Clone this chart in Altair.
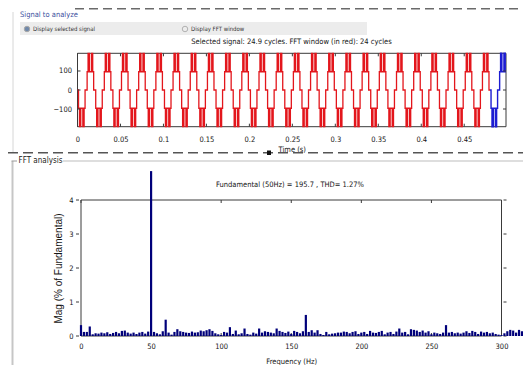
import altair as alt
import pandas as pd

# ---------------- data ----------------
# one period (20 ms) of the stepped multilevel signal: breakpoint times (ms) and levels
CYCLE_T_MS = [0, 1.2, 2.3, 2.6, 2.9, 3.2, 3.5, 3.8, 6.2, 6.5, 6.8, 7.1, 7.4, 7.7, 8.8,
              11.2, 12.3, 12.6, 12.9, 13.2, 13.5, 13.8, 16.2, 16.5, 16.8, 17.1, 17.4, 17.7, 18.8]
CYCLE_LEVEL = [0, -96, -193, -96, -193, -96, -193, -96, -193, -96, -193, -96, -193, -96, 0,
               96, 193, 96, 193, 96, 193, 96, 193, 96, 193, 96, 193, 96, 0]
PERIOD_MS = 20
SIGNAL_END_S = 0.4986      # 24.9 cycles
FFT_WINDOW_END_S = 0.48    # 24 cycles
V_LIMIT = 193
T_TICKS = [0, 0.05, 0.1, 0.15, 0.2, 0.25, 0.3, 0.35, 0.4, 0.45]
V_TICKS = [-100, 0, 100]

# FFT magnitudes (% of fundamental), one per bin of 50/24 Hz starting at 0 Hz
FREQ_STEP_HZ = 50 / 24
MAGS = [0.32, 0.12, 0.12, 0.28, 0.05, 0.08, 0.07, 0.10, 0.08, 0.11,
        0.06, 0.09, 0.12, 0.08, 0.15, 0.16, 0.10, 0.07, 0.10, 0.06,
        0.10, 0.12, 0.07, 0.13, 100.0, 0.12, 0.08, 0.05, 0.14, 0.48,
        0.10, 0.04, 0.12, 0.20, 0.14, 0.12, 0.10, 0.09, 0.13, 0.10,
        0.11, 0.16, 0.14, 0.17, 0.20, 0.15, 0.08, 0.05, 0.03, 0.12,
        0.10, 0.26, 0.06, 0.16, 0.05, 0.08, 0.22, 0.06, 0.04, 0.10,
        0.07, 0.22, 0.10, 0.14, 0.12, 0.10, 0.08, 0.22, 0.15, 0.12,
        0.09, 0.13, 0.06, 0.15, 0.12, 0.08, 0.14, 0.62, 0.12, 0.17,
        0.10, 0.17, 0.06, 0.03, 0.12, 0.05, 0.07, 0.08, 0.10, 0.10,
        0.13, 0.12, 0.08, 0.12, 0.14, 0.06, 0.10, 0.12, 0.06, 0.15,
        0.10, 0.09, 0.12, 0.15, 0.05, 0.10, 0.12, 0.06, 0.13, 0.22,
        0.10, 0.12, 0.05, 0.20, 0.18, 0.16, 0.12, 0.16, 0.10, 0.14,
        0.05, 0.10, 0.08, 0.06, 0.10, 0.32, 0.10, 0.12, 0.08, 0.10,
        0.07, 0.10, 0.14, 0.09, 0.15, 0.12, 0.06, 0.13, 0.10, 0.12,
        0.08, 0.10, 0.06, 0.04, 0.03, 0.08, 0.14, 0.18, 0.16, 0.10,
        0.18, 0.14, 0.18, 0.12]
F_TICKS = [0, 50, 100, 150, 200, 250, 300]
M_TICKS = [0, 1, 2, 3, 4]
F_MAX = 300
M_MAX = 4
M_VISIBLE = 4.85           # the fundamental bar runs out of the axes up to here

TITLE_TOP = "Selected signal: 24.9 cycles. FFT window (in red): 24 cycles"
TITLE_BOT = "Fundamental (50Hz) = 195.7 , THD= 1.27%"

# ---------------- layout (pixels inside the chart) ----------------
W, H = 515, 357
FONT = "Liberation Sans Narrow, DejaVu Sans Condensed, Liberation Sans, sans-serif"
TXT = "#151515"
FS = 7.5
TOP_X = [69.5, 498.0]
TOP_Y = [118.7, 45.3]
BOT_X = [68.0, 498.5]
BOT_Y = [328.0, 192.0]
RED = "#e3161c"
BLUE = "#1c1cd2"
NAVY = "#00007a"
FRAME = "#3a3a3a"

# ---------------- tables ----------------
rows = []
c = 0
while c * PERIOD_MS / 1000 < SIGNAL_END_S:
    for t, v in zip(CYCLE_T_MS, CYCLE_LEVEL):
        ts = round((c * PERIOD_MS + t) / 1000, 6)
        if ts < SIGNAL_END_S:
            rows.append((ts, v))
    c += 1
rows.append((SIGNAL_END_S, rows[-1][1]))
sig = pd.DataFrame(rows, columns=["t", "v"])
sig_red = sig[sig.t <= FFT_WINDOW_END_S]
sig_blue = sig[sig.t >= FFT_WINDOW_END_S]

fft = pd.DataFrame({"f": [k * FREQ_STEP_HZ for k in range(len(MAGS))], "m": MAGS})

ONE = pd.DataFrame({"k": [0]})

common_axis = dict(domain=False, ticks=False, grid=False, labelFont=FONT,
                   labelFontSize=FS, labelColor=TXT, titleFont=FONT,
                   titleFontSize=FS, titleFontWeight="normal", titleColor=TXT,
                   labelFlush=False, labelOverlap=False)

# ---------------- top plot ----------------
xs_top = alt.Scale(domain=[0, SIGNAL_END_S], range=TOP_X, nice=False, zero=False)
ys_top = alt.Scale(domain=[-V_LIMIT, V_LIMIT], range=TOP_Y, nice=False, zero=False)
ax_tx = alt.Axis(orient="bottom", offset=TOP_Y[0] - H, values=T_TICKS, format=".2~f",
                 title="Time (s)", labelPadding=9, titlePadding=2, **common_axis)
ax_ty = alt.Axis(orient="left", offset=-TOP_X[0], values=V_TICKS, title=None,
                 labelPadding=6, **common_axis)
TX = lambda f="t": alt.X(f"{f}:Q", scale=xs_top, axis=ax_tx)
TY = lambda f="v": alt.Y(f"{f}:Q", scale=ys_top, axis=ax_ty)

top_box = alt.Chart(pd.DataFrame({"t": [0], "t2": [SIGNAL_END_S], "v": [-V_LIMIT], "v2": [V_LIMIT]})).mark_rect(
    fill=None, stroke=FRAME, strokeWidth=1).encode(x=TX(), x2="t2:Q", y=TY(), y2="v2:Q")
top_blue = alt.Chart(sig_blue).mark_line(interpolate="step-after", color=BLUE, strokeWidth=1.4).encode(
    x=TX(), y=TY(), order="t:Q")
top_red = alt.Chart(sig_red).mark_line(interpolate="step-after", color=RED, strokeWidth=1.3).encode(
    x=TX(), y=TY(), order="t:Q")
tt = pd.DataFrame({"t": T_TICKS})
tv = pd.DataFrame({"v": V_TICKS})
top_ticks = [
    alt.Chart(tt).mark_rule(color=FRAME).encode(x=TX(), y=alt.value(TOP_Y[0]), y2=alt.value(TOP_Y[0] - 3)),
    alt.Chart(tt).mark_rule(color=FRAME).encode(x=TX(), y=alt.value(TOP_Y[1]), y2=alt.value(TOP_Y[1] + 3)),
    alt.Chart(tv).mark_rule(color=FRAME).encode(y=TY(), x=alt.value(TOP_X[0]), x2=alt.value(TOP_X[0] + 3)),
    alt.Chart(tv).mark_rule(color=FRAME).encode(y=TY(), x=alt.value(TOP_X[1]), x2=alt.value(TOP_X[1] - 3)),
]
top = alt.layer(top_box, top_blue, top_red, *top_ticks)

# ---------------- bottom plot ----------------
xs_bot = alt.Scale(domain=[0, F_MAX], range=BOT_X, nice=False, zero=False)
ys_bot = alt.Scale(domain=[0, M_MAX], range=BOT_Y, nice=False, zero=False)
ax_bx = alt.Axis(orient="bottom", offset=BOT_Y[0] - H, values=F_TICKS, format="d",
                 title="Frequency (Hz)", labelPadding=6, titlePadding=8, **common_axis)
bot_axis = dict(common_axis)
bot_axis.update(titleFont="Liberation Sans, sans-serif", titleFontSize=10)
ax_by = alt.Axis(orient="left", offset=-BOT_X[0], values=M_TICKS, title="Mag (% of Fundamental)",
                 labelPadding=3, titlePadding=5, **bot_axis)
BX = lambda f="f": alt.X(f"{f}:Q", scale=xs_bot, axis=ax_bx)
BY = lambda f="m": alt.Y(f"{f}:Q", scale=ys_bot, axis=ax_by)

bot_box = alt.Chart(pd.DataFrame({"f": [0], "f2": [F_MAX], "m": [0], "m2": [M_MAX]})).mark_rect(
    fill=None, stroke=FRAME, strokeWidth=1).encode(x=BX(), x2="f2:Q", y=BY(), y2="m2:Q")
bars = alt.Chart(fft).transform_calculate(md=f"min(datum.m, {M_VISIBLE})").mark_bar(
    size=2.2, color=NAVY).encode(x=BX(), y=BY("md"))
bt = pd.DataFrame({"f": F_TICKS})
bm = pd.DataFrame({"m": M_TICKS})
bot_ticks = [
    alt.Chart(bt).mark_rule(color=FRAME).encode(x=BX(), y=alt.value(BOT_Y[0]), y2=alt.value(BOT_Y[0] - 3)),
    alt.Chart(bt).mark_rule(color=FRAME).encode(x=BX(), y=alt.value(BOT_Y[1]), y2=alt.value(BOT_Y[1] + 3)),
    alt.Chart(bm).mark_rule(color=FRAME).encode(y=BY(), x=alt.value(BOT_X[0]), x2=alt.value(BOT_X[0] + 3)),
    alt.Chart(bm).mark_rule(color=FRAME).encode(y=BY(), x=alt.value(BOT_X[1]), x2=alt.value(BOT_X[1] - 3)),
]
bottom = alt.layer(bot_box, *bot_ticks, bars)


# ---------------- GUI decoration ----------------
def txt(s, x, y, size=FS, color=TXT, align="left", font=FONT):
    return alt.Chart(ONE).mark_text(text=s, align=align, baseline="middle", fontSize=size,
                                    font=font, color=color).encode(x=alt.value(x), y=alt.value(y))


def hline(x1, x2, y, color, width=1, dash=None):
    kw = dict(color=color, strokeWidth=width)
    if dash:
        kw["strokeDash"] = dash
    return alt.Chart(ONE).mark_rule(**kw).encode(x=alt.value(x1), x2=alt.value(x2), y=alt.value(y))


def vline(x, y1, y2, color, width=1):
    return alt.Chart(ONE).mark_rule(color=color, strokeWidth=width).encode(
        x=alt.value(x), y=alt.value(y1), y2=alt.value(y2))


def box(x1, x2, y1, y2, fill, stroke=None):
    kw = dict(fill=fill)
    if stroke:
        kw["stroke"] = stroke
    return alt.Chart(ONE).mark_rect(**kw).encode(x=alt.value(x1), x2=alt.value(x2),
                                                 y=alt.value(y1), y2=alt.value(y2))


deco = [
    box(12, 359, 14, 27, "#ececec"),
    vline(5, 4, 144, "#d6d6d6", 1),
    hline(67, 515, 0.8, "#6a6a6a", 1.5, [9, 5]),
    txt("Signal to analyze", 12, 6.5, 7.5, "#3b4f9e"),
    alt.Chart(ONE).mark_point(shape="circle", filled=True, size=30, color="#3d5f8f",
                              stroke="#8a8a8a", strokeWidth=1).encode(x=alt.value(19), y=alt.value(21)),
    txt("Display selected signal", 25, 21, 6, "#333333"),
    alt.Chart(ONE).mark_point(shape="circle", filled=False, size=30, color="#9a9a9a",
                              strokeWidth=1).encode(x=alt.value(177), y=alt.value(21)),
    txt("Display FFT window", 183, 21, 6, "#333333"),
    txt(TITLE_TOP, 283.5, 34, FS, TXT, "center"),
    hline(0, 515, 144.8, "#555555", 1.5, [10, 5]),
    box(259, 263, 142.5, 147, "#111111"),
    vline(4.5, 153, 357, "#c6c6c6", 2),
    hline(3.5, 9, 153, "#9a9a9a", 1),
    hline(55, 515, 153, "#bdbdbd", 1),
    txt("FFT analysis", 10.5, 153, 8, "#222222"),
    txt(TITLE_BOT, 282, 177, FS, TXT, "center"),
]

chart = alt.layer(*deco, top, bottom).resolve_scale(
    x="independent", y="independent"
).properties(
    width=W, height=H, padding=0, background="white",
    autosize=alt.AutoSizeParams(type="none"),
).configure_view(stroke=None)

chart.save("out.html", embed_options={"renderer": "svg", "actions": False})
